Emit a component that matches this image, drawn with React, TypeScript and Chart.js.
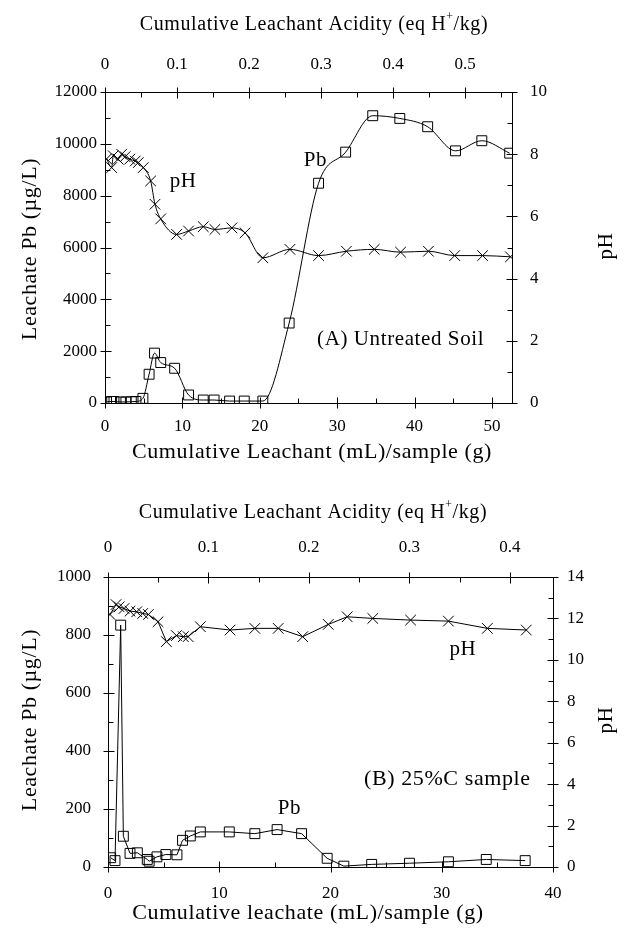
import React, { useEffect, useRef } from "react";
import { Chart, registerables } from "chart.js";
Chart.register(...registerables);

const FONT = "'Liberation Serif', 'Times New Roman', serif";

// ---------------- Panel A : Untreated soil ----------------
const pbAX = [0.2, 0.86, 1.16, 2.0, 2.7, 3.4, 4.0, 4.9, 5.7, 6.4, 7.2, 9.0, 10.8, 12.7, 14.1, 16.1, 18.0, 20.4, 23.8, 27.6, 31.1, 34.6, 38.1, 41.7, 45.3, 48.7, 52.3];
const pbAY = [40, 60, 60, 40, 40, 50, 60, 180, 1110, 1925, 1560, 1340, 310, 115, 115, 75, 75, 75, 3085, 8480, 9680, 11085, 10980, 10660, 9730, 10120, 9640];
const phAX = [0.2, 0.86, 1.07, 1.7, 2.15, 2.6, 3.2, 3.9, 4.3, 4.95, 5.9, 6.46, 7.2, 9.26, 10.8, 12.7, 14.2, 16.4, 18.1, 20.4, 23.9, 27.6, 31.2, 34.8, 38.2, 41.8, 45.2, 48.8, 52.4];
const phAY = [7.85, 7.57, 7.95, 7.84, 8.0, 7.92, 7.84, 7.78, 7.73, 7.57, 7.14, 6.39, 5.92, 5.42, 5.53, 5.67, 5.58, 5.63, 5.47, 4.67, 4.94, 4.74, 4.88, 4.94, 4.85, 4.88, 4.74, 4.74, 4.7];
const leachTicksA = [0, 10, 20, 30, 40, 50];
const acidTicksA = [0, 0.1, 0.2, 0.3, 0.4, 0.5];
const pbTicksA = [0, 2000, 4000, 6000, 8000, 10000, 12000];
const phTicksA = [0, 2, 4, 6, 8, 10];

// ---------------- Panel B : 25%C sample ----------------
const pbBX = [0.24, 0.63, 1.14, 1.38, 1.98, 2.64, 3.53, 3.7, 4.4, 5.2, 6.2, 6.7, 7.4, 8.3, 10.9, 13.2, 15.2, 17.4, 19.7, 21.2, 23.7, 27.1, 30.6, 34.0, 37.5];
const pbBY = [32, 22, 834, 106, 47, 49, 26, 20, 35, 43, 42, 92, 107, 121, 121, 115, 129, 115, 30, 3, 9, 13, 18, 26, 22];
const phBX = [0.18, 0.72, 1.0, 1.44, 1.98, 2.58, 3.12, 3.63, 4.5, 5.25, 6.15, 6.77, 7.2, 8.3, 10.97, 13.2, 15.3, 17.5, 19.8, 21.5, 23.8, 27.2, 30.6, 34.1, 37.6];
const phBY = [12.19, 12.67, 12.56, 12.48, 12.35, 12.32, 12.24, 12.19, 11.84, 10.88, 11.17, 11.12, 11.12, 11.6, 11.44, 11.52, 11.52, 11.12, 11.71, 12.08, 12.0, 11.92, 11.87, 11.52, 11.44];
const leachTicksB = [0, 10, 20, 30, 40];
const acidTicksB = [0, 0.1, 0.2, 0.3, 0.4];
const pbTicksB = [0, 200, 400, 600, 800, 1000];
const phTicksB = [0, 2, 4, 6, 8, 10, 12, 14];

type Txt = { text: string; x: number; y: number; rot?: number; size: number; sup?: boolean };

type Panel = {
  top: number;
  height: number;
  pbX: number[]; pbY: number[]; phX: number[]; phY: number[];
  xMax: number; x2Max: number; yMax: number; y2Max: number;
  xTicks: number[]; x2Ticks: number[]; yTicks: number[]; y2Ticks: number[];
  minor: { x: number; x2: number; y: number; y2: number };
  box: { left: number; right: number; top: number; bottom: number };
  pad: { x: number; x2: number; y: number; y2: number };
  smooth: boolean;
  texts: Txt[];
  notes: { text: string; x: number; y: number; size: number }[];
};

const W = 631;

const panelA: Panel = {
  top: 0, height: 470,
  pbX: pbAX, pbY: pbAY, phX: phAX, phY: phAY,
  xMax: 52.6, x2Max: 0.565, yMax: 12000, y2Max: 10,
  xTicks: leachTicksA, x2Ticks: acidTicksA, yTicks: pbTicksA, y2Ticks: phTicksA,
  minor: { x: 5, x2: 0.05, y: 1000, y2: 1 },
  box: { left: 105, right: 512, top: 92, bottom: 403 },
  pad: { x: 13, x2: 17, y: 8, y2: 18 },
  smooth: true,
  texts: [
    { text: "Cumulative Leachant Acidity (eq H", x: 314, y: 25, size: 20, sup: true },
    { text: "Cumulative Leachant (mL)/sample (g)", x: 312, y: 452, size: 22 },
    { text: "Leachate Pb (\u00b5g/L)", x: 30, y: 249, rot: -Math.PI / 2, size: 22 },
    { text: "pH", x: 606, y: 246, rot: -Math.PI / 2, size: 21 },
  ],
  notes: [
    { text: "pH", x: 10.1, y: 7.13, size: 21 },
    { text: "Pb", x: 27.2, y: 7.81, size: 21 },
    { text: "(A) Untreated Soil", x: 38.2, y: 2.03, size: 21 },
  ],
};

const panelB: Panel = {
  top: 470, height: 458,
  pbX: pbBX, pbY: pbBY, phX: phBX, phY: phBY,
  xMax: 40, x2Max: 0.443, yMax: 1000, y2Max: 14,
  xTicks: leachTicksB, x2Ticks: acidTicksB, yTicks: pbTicksB, y2Ticks: phTicksB,
  minor: { x: 5, x2: 0.05, y: 100, y2: 1 },
  box: { left: 108, right: 553, top: 107, bottom: 397 },
  pad: { x: 16, x2: 19, y: 17, y2: 14 },
  smooth: false,
  texts: [
    { text: "Cumulative Leachant Acidity (eq H", x: 313, y: 513 - 470, size: 20, sup: true },
    { text: "Cumulative leachate (mL)/sample (g)", x: 308, y: 913 - 470, size: 22 },
    { text: "Leachate Pb (\u00b5g/L)", x: 30, y: 720 - 470, rot: -Math.PI / 2, size: 22 },
    { text: "pH", x: 606, y: 720 - 470, rot: -Math.PI / 2, size: 21 },
  ],
  notes: [
    { text: "pH", x: 31.9, y: 10.5, size: 21 },
    { text: "(B) 25%C sample", x: 30.5, y: 4.22, size: 22 },
    { text: "Pb", x: 16.3, y: 2.83, size: 21 },
  ],
};

function range(min: number, max: number, step: number): number[] {
  const out: number[] = [];
  for (let i = 0; min + i * step <= max + 1e-9; i++) out.push(+(min + i * step).toFixed(6));
  return out;
}

function buildChart(canvas: HTMLCanvasElement, p: Panel) {
  const fmt = (v: number) => String(+v.toFixed(3));
  const tickFont = { family: FONT, size: 17 };

  const framePlugin = {
    id: "frame",
    afterDatasetsDraw(chart: any) {
      const ctx = chart.ctx as CanvasRenderingContext2D;
      const a = chart.chartArea;
      ctx.save();
      ctx.strokeStyle = "#000";
      ctx.lineWidth = 1;
      ctx.beginPath();
      const L = Math.round(a.left) + 0.5, R = Math.round(a.right) + 0.5;
      const T = Math.round(a.top) + 0.5, B = Math.round(a.bottom) + 0.5;
      ctx.rect(L, T, R - L, B - T);
      const IN = 6, OUT = 5, MIN_IN = 5;
      const sx = chart.scales.x, sx2 = chart.scales.x2, sy = chart.scales.y, sy2 = chart.scales.y2;
      const isMajor = (arr: number[], v: number) => arr.some((m) => Math.abs(m - v) < 1e-6);
      for (const v of range(0, p.xMax, p.minor.x)) {
        const px = Math.round(sx.getPixelForValue(v)) + 0.5;
        const maj = isMajor(p.xTicks, v);
        ctx.moveTo(px, B + (maj ? OUT : 0));
        ctx.lineTo(px, B - (maj ? IN : MIN_IN));
      }
      for (const v of range(0, p.x2Max, p.minor.x2)) {
        const px = Math.round(sx2.getPixelForValue(v)) + 0.5;
        const maj = isMajor(p.x2Ticks, v);
        ctx.moveTo(px, T - (maj ? OUT : 0));
        ctx.lineTo(px, T + (maj ? IN : MIN_IN));
      }
      for (const v of range(0, p.yMax, p.minor.y)) {
        const py = Math.round(sy.getPixelForValue(v)) + 0.5;
        const maj = isMajor(p.yTicks, v);
        ctx.moveTo(L - (maj ? OUT : 0), py);
        ctx.lineTo(L + (maj ? IN : MIN_IN), py);
      }
      for (const v of range(0, p.y2Max, p.minor.y2)) {
        const py = Math.round(sy2.getPixelForValue(v)) + 0.5;
        const maj = isMajor(p.y2Ticks, v);
        ctx.moveTo(R + (maj ? OUT : 0), py);
        ctx.lineTo(R - (maj ? IN : MIN_IN), py);
      }
      ctx.stroke();

      ctx.fillStyle = "#000";
      (ctx as any).letterSpacing = "0.6px";
      for (const t of p.texts) {
        ctx.save();
        ctx.translate(t.x, t.y);
        if (t.rot) ctx.rotate(t.rot);
        ctx.font = `${t.size}px ${FONT}`;
        ctx.textBaseline = "middle";
        if (t.sup) {
          const supFont = `${Math.round(t.size * 0.62)}px ${FONT}`;
          const tail = "/kg)";
          const w1 = ctx.measureText(t.text).width;
          const w3 = ctx.measureText(tail).width;
          ctx.font = supFont;
          const w2 = ctx.measureText("+").width;
          const start = -(w1 + w2 + w3) / 2;
          ctx.textAlign = "left";
          ctx.font = `${t.size}px ${FONT}`;
          ctx.fillText(t.text, start, 0);
          ctx.font = supFont;
          ctx.fillText("+", start + w1, -t.size * 0.42);
          ctx.font = `${t.size}px ${FONT}`;
          ctx.fillText(tail, start + w1 + w2, 0);
        } else {
          ctx.textAlign = "center";
          ctx.fillText(t.text, 0, 0);
        }
        ctx.restore();
      }
      for (const n of p.notes) {
        ctx.font = `${n.size}px ${FONT}`;
        ctx.textAlign = "center";
        ctx.textBaseline = "middle";
        ctx.fillText(n.text, sx.getPixelForValue(n.x), sy2.getPixelForValue(n.y));
      }
      ctx.restore();
    },
  };

  const setTicks = (arr: number[]) => (scale: any) => {
    scale.ticks = arr.map((v) => ({ value: v }));
  };

  const pbData = p.pbX.map((x, i) => ({ x, y: p.pbY[i] }));
  const phData = p.phX.map((x, i) => ({ x, y: p.phY[i] }));

  return new Chart(canvas, {
    type: "line",
    data: {
      datasets: [
        {
          label: "Pb",
          data: pbData,
          yAxisID: "y",
          xAxisID: "x",
          borderColor: "#000",
          borderWidth: 1,
          pointStyle: "rect",
          pointRadius: 7,
          pointBorderColor: "#000",
          pointBackgroundColor: "rgba(0,0,0,0)",
          pointBorderWidth: 1,
          cubicInterpolationMode: p.smooth ? "monotone" : "default",
          tension: 0,
        },
        {
          label: "pH",
          data: phData,
          yAxisID: "y2",
          xAxisID: "x",
          borderColor: "#000",
          borderWidth: 1,
          pointStyle: "crossRot",
          pointRadius: 7.5,
          pointBorderColor: "#000",
          pointBorderWidth: 1,
          cubicInterpolationMode: p.smooth ? "monotone" : "default",
          tension: 0,
        },
      ],
    } as any,
    options: {
      responsive: false,
      animation: false,
      devicePixelRatio: 1,
      layout: { padding: 0 },
      plugins: { legend: { display: false }, tooltip: { enabled: false }, title: { display: false } },
      scales: {
        x: {
          type: "linear", position: "bottom", min: 0, max: p.xMax,
          afterBuildTicks: setTicks(p.xTicks),
          afterFit: (s: any) => { s.height = p.height - p.box.bottom; },
          grid: { display: false, drawTicks: false },
          border: { display: false },
          ticks: { color: "#000", font: tickFont, padding: p.pad.x, maxRotation: 0, autoSkip: false, callback: (v: any) => fmt(v) },
        },
        x2: {
          type: "linear", position: "top", min: 0, max: p.x2Max,
          afterBuildTicks: setTicks(p.x2Ticks),
          afterFit: (s: any) => { s.height = p.box.top; },
          grid: { display: false, drawTicks: false },
          border: { display: false },
          ticks: { color: "#000", font: tickFont, padding: p.pad.x2, maxRotation: 0, autoSkip: false, callback: (v: any) => fmt(v) },
        },
        y: {
          type: "linear", position: "left", min: 0, max: p.yMax,
          afterBuildTicks: setTicks(p.yTicks),
          afterFit: (s: any) => { s.width = p.box.left; },
          grid: { display: false, drawTicks: false },
          border: { display: false },
          ticks: { color: "#000", font: tickFont, padding: p.pad.y, autoSkip: false, callback: (v: any) => fmt(v) },
        },
        y2: {
          type: "linear", position: "right", min: 0, max: p.y2Max,
          afterBuildTicks: setTicks(p.y2Ticks),
          afterFit: (s: any) => { s.width = W - p.box.right; },
          grid: { display: false, drawTicks: false },
          border: { display: false },
          ticks: { color: "#000", font: tickFont, padding: p.pad.y2, autoSkip: false, callback: (v: any) => fmt(v) },
        },
      },
    } as any,
    plugins: [framePlugin],
  });
}

function PanelCanvas({ panel }: { panel: Panel }) {
  const ref = useRef<HTMLCanvasElement | null>(null);
  useEffect(() => {
    if (!ref.current) return;
    const chart = buildChart(ref.current, panel);
    return () => chart.destroy();
  }, [panel]);
  return (
    <canvas
      ref={ref}
      width={W}
      height={panel.height}
      style={{ position: "absolute", left: 0, top: panel.top, width: W, height: panel.height, display: "block" }}
    />
  );
}

export default function App() {
  return (
    <div style={{ position: "absolute", left: 0, top: 0, width: W, height: 928, background: "#fff" }}>
      <PanelCanvas panel={panelA} />
      <PanelCanvas panel={panelB} />
    </div>
  );
}
